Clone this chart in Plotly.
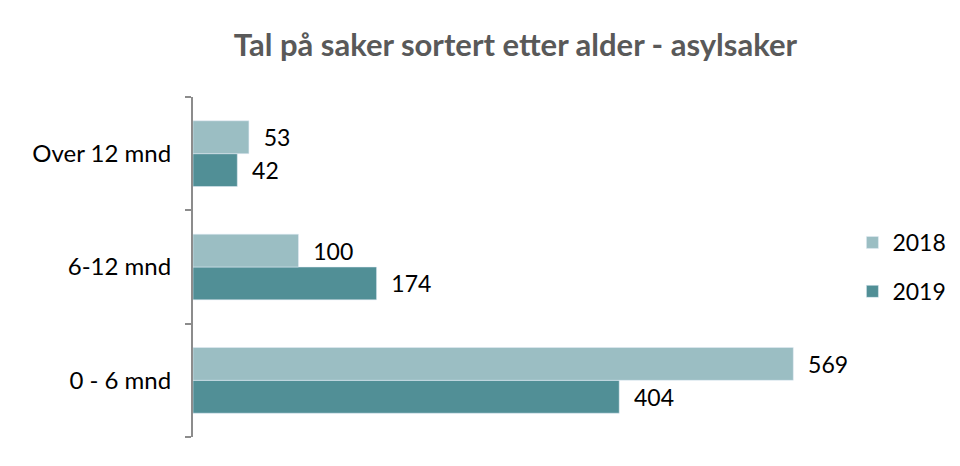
import plotly.graph_objects as go

categories = ["0 - 6 mnd", "6-12 mnd", "Over 12 mnd"]
values_2018 = [569, 100, 53]
values_2019 = [404, 174, 42]
series_names = ["2018", "2019"]

light = "#9BBEC3"
dark = "#518F96"
font_family = "Lato, 'Open Sans', sans-serif"

fig = go.Figure()
fig.add_trace(go.Bar(
    y=categories, x=values_2019, name=series_names[1], orientation="h",
    marker=dict(color=dark), text=values_2019, texttemplate="  %{text}",
    textposition="outside",
    textfont=dict(size=23, color="#000000"), legendgroup="b", legendrank=2,
    cliponaxis=False,
))
fig.add_trace(go.Bar(
    y=categories, x=values_2018, name=series_names[0], orientation="h",
    marker=dict(color=light), text=values_2018, texttemplate="  %{text}",
    textposition="outside",
    textfont=dict(size=23, color="#000000"), legendgroup="a", legendrank=1,
    cliponaxis=False,
))

fig.update_layout(
    width=952, height=458,
    paper_bgcolor="white", plot_bgcolor="white",
    margin=dict(l=185, r=134, t=89, b=29),
    barmode="group", bargap=0.42, bargroupgap=0,
    font=dict(family=font_family, size=23, color="#000000"),
    title=dict(text="<b>Tal på saker sortert etter alder - asylsaker</b>",
               x=0.533, xanchor="center", y=0.919, yanchor="middle",
               font=dict(size=31, color="#595959", family=font_family)),
    xaxis=dict(range=[0, 600], visible=False, showgrid=False, zeroline=False,
               automargin=False),
    yaxis=dict(showline=True, linecolor="#8C8C8C", linewidth=2,
               ticks="outside", tickson="boundaries", ticklen=6, tickwidth=2,
               tickcolor="#8C8C8C", showgrid=False, ticklabelstandoff=15,
               tickfont=dict(size=24), automargin=False),
    legend=dict(xref="container", x=0.887, xanchor="left",
                y=0.5, yanchor="middle",
                traceorder="grouped", tracegroupgap=16,
                font=dict(size=23), itemwidth=30),
    showlegend=True,
)

fig.write_html("out.html")
